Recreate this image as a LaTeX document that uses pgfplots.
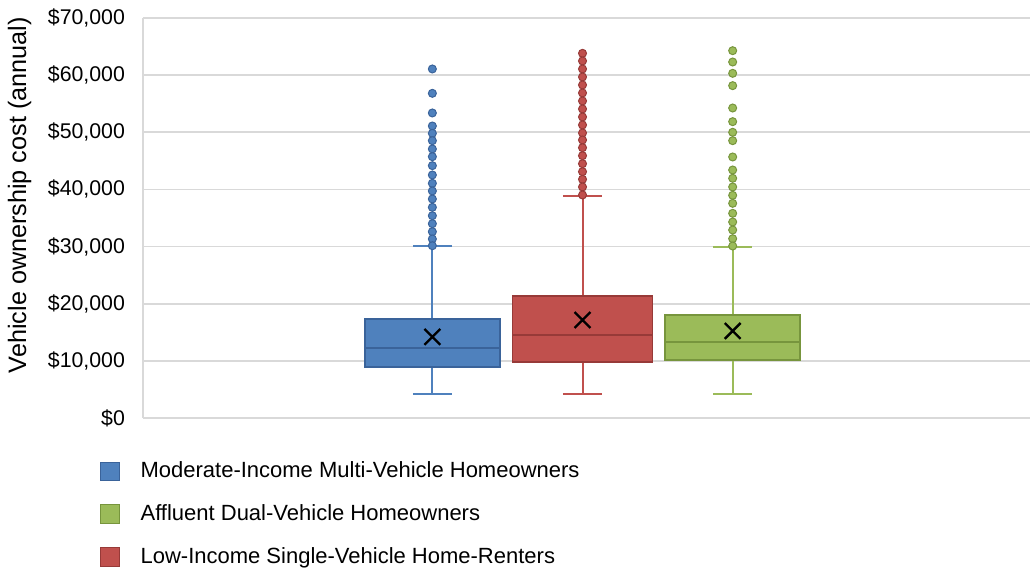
\documentclass[border=0pt]{standalone}
\usepackage{fontspec}
\setmainfont{Liberation Sans}
\usepackage{pgfplots}
\pgfplotsset{compat=1.18}
\usepgfplotslibrary{statistics}

\definecolor{cblue}{HTML}{4F81BD}
\definecolor{cblueD}{HTML}{3A639A}
\definecolor{cred}{HTML}{C0504D}
\definecolor{credD}{HTML}{973A38}
\definecolor{cgreen}{HTML}{9BBB59}
\definecolor{cgreenD}{HTML}{77953D}
\definecolor{gridc}{HTML}{D9D9D9}

\begin{document}
\begin{tikzpicture}
% values in thousands of dollars
\begin{axis}[
  name=ax,
  scale only axis,
  width=443.5pt, height=200pt,
  xmin=-0.927, xmax=4.98,
  ymin=0, ymax=70,
  axis lines=left,
  axis line style={gridc, line width=0.8pt, -},
  xtick=\empty,
  ytick={0,10,...,70},
  yticklabels={{\$0},{\$10,000},{\$20,000},{\$30,000},{\$40,000},{\$50,000},{\$60,000},{\$70,000}},
  ymajorgrids,
  grid style={gridc, line width=0.8pt},
  major tick length=0pt,
  tick label style={font=\fontsize{10.65}{12.8}\selectfont},
  yticklabel style={xshift=-5.5pt},
  ylabel={Vehicle ownership cost (annual)},
  ylabel style={at={(axis description cs:-0.139,0.557)}, anchor=center,
    font=\fontsize{12.6}{15}\selectfont},
  legend style={at={(axis description cs:-0.0485,-0.108)}, anchor=north west,
    draw=none, fill=none, font=\fontsize{11}{13}\selectfont,
    row sep=11.8pt, inner sep=0pt,
    nodes={inner sep=0pt},
    /tikz/every odd column/.append style={column sep=10.5pt}},
  legend cell align=left,
  legend columns=1,
  boxplot/draw direction=y,
]

\addlegendimage{legend image code/.code={\fill[cblue, draw=cblueD] (0pt,-4.6pt) rectangle (9.2pt,4.6pt);}}
\addlegendentry{Moderate-Income Multi-Vehicle Homeowners}
\addlegendimage{legend image code/.code={\fill[cgreen, draw=cgreenD] (0pt,-4.6pt) rectangle (9.2pt,4.6pt);}}
\addlegendentry{Affluent Dual-Vehicle Homeowners}
\addlegendimage{legend image code/.code={\fill[cred, draw=credD] (0pt,-4.6pt) rectangle (9.2pt,4.6pt);}}
\addlegendentry{Low-Income Single-Vehicle Home-Renters}

% Moderate-Income Multi-Vehicle Homeowners
\addplot[forget plot, color=cblue, line width=0.8pt,
  boxplot prepared={lower whisker=4.2, lower quartile=8.95, median=12.25,
    upper quartile=17.3, upper whisker=30.1,
    draw position=1, box extend=0.9, whisker extend=0.26},
  boxplot/every box/.style={draw=cblueD, fill=cblue},
  boxplot/every whisker/.style={/tikz/line width=1pt},
  boxplot/every median/.style={draw=cblueD},
  mark=*, mark size=2pt, mark options={fill=cblue, draw=cblueD, line width=0.5pt}]
  coordinates {(1,61.08) (1,56.82) (1,53.38) (1,51.10) (1,49.82) (1,48.53)
    (1,47.08) (1,45.73) (1,44.16) (1,42.53) (1,41.07) (1,39.73) (1,38.33)
    (1,36.87) (1,35.40) (1,34.00) (1,32.60) (1,31.33) (1,30.15)};

% Low-Income Single-Vehicle Home-Renters
\addplot[forget plot, color=cred, line width=0.8pt,
  boxplot prepared={lower whisker=4.2, lower quartile=9.8, median=14.53,
    upper quartile=21.35, upper whisker=38.85,
    draw position=2, box extend=0.93, whisker extend=0.26},
  boxplot/every box/.style={draw=credD, fill=cred},
  boxplot/every whisker/.style={/tikz/line width=1pt},
  boxplot/every median/.style={draw=credD},
  mark=*, mark size=2pt, mark options={fill=cred, draw=credD, line width=0.5pt}]
  coordinates {(2,63.82) (2,62.48) (2,61.08) (2,59.68) (2,58.28) (2,56.88)
    (2,55.48) (2,54.08) (2,52.68) (2,51.28) (2,49.88) (2,48.65) (2,47.30)
    (2,45.90) (2,44.50) (2,43.10) (2,41.77) (2,40.43) (2,39.03)};

% Affluent Dual-Vehicle Homeowners
\addplot[forget plot, color=cgreen, line width=0.8pt,
  boxplot prepared={lower whisker=4.2, lower quartile=10.15, median=13.3,
    upper quartile=18.03, upper whisker=29.93,
    draw position=3, box extend=0.9, whisker extend=0.26},
  boxplot/every box/.style={draw=cgreenD, fill=cgreen},
  boxplot/every whisker/.style={/tikz/line width=1pt},
  boxplot/every median/.style={draw=cgreenD},
  mark=*, mark size=2pt, mark options={fill=cgreen, draw=cgreenD, line width=0.5pt}]
  coordinates {(3,64.28) (3,62.30) (3,60.32) (3,58.16) (3,54.25) (3,51.86)
    (3,50.00) (3,48.53) (3,45.68) (3,43.40) (3,41.95) (3,40.43) (3,38.97)
    (3,37.57) (3,35.82) (3,34.30) (3,32.90) (3,31.38) (3,30.10)};

% means
\addplot[forget plot, only marks, mark=x, mark size=5.6pt, black, line width=1.2pt]
  coordinates {(1,14.2) (2,17.15) (3,15.23)};

\end{axis}
\pgfresetboundingbox
\path[use as bounding box] ([shift={(-71.5pt,-76.5pt)}]ax.south west)
  rectangle ([shift={(0.5pt,9pt)}]ax.north east);
\end{tikzpicture}
\end{document}
